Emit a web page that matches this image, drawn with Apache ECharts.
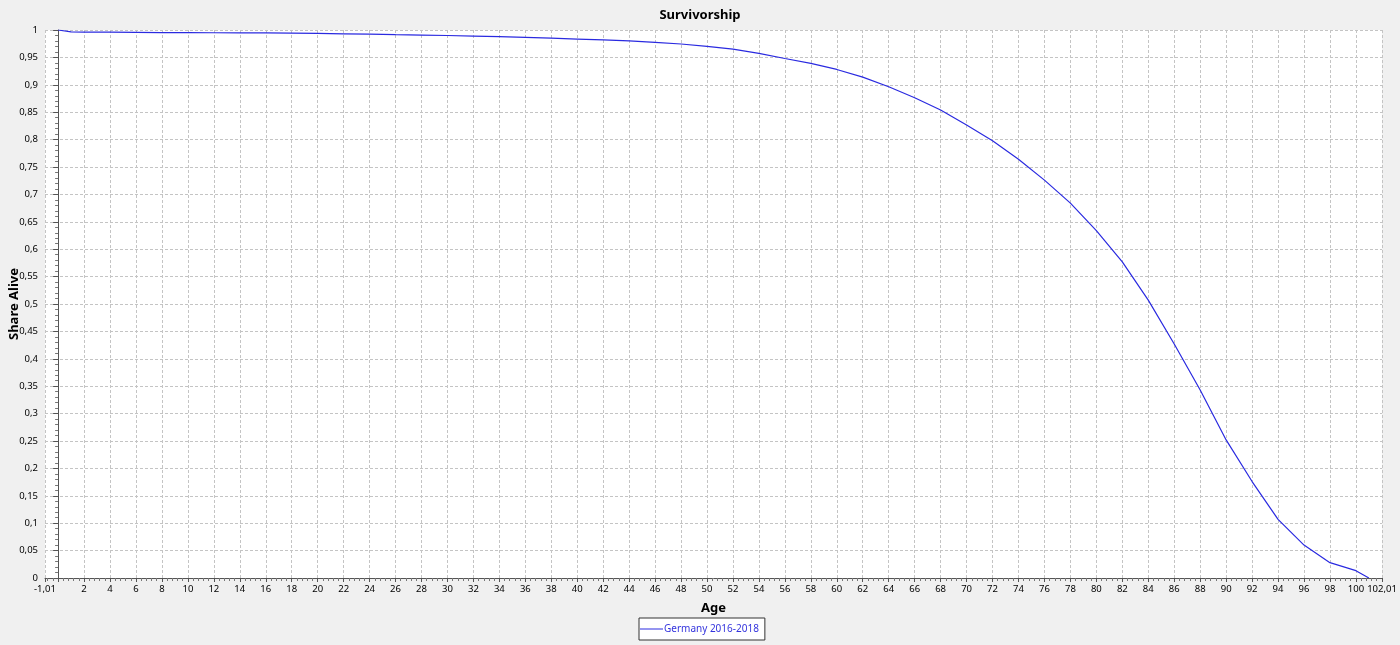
<!DOCTYPE html>
<html>
<head>
<meta charset="utf-8">
<script src="https://cdn.jsdelivr.net/npm/echarts@6/dist/echarts.min.js"></script>
<style>
html,body{margin:0;padding:0;background:#f0f0f0;}
#chart{width:1400px;height:645px;}
</style>
</head>
<body>
<div id="chart"></div>
<script>
const ages = [0, 1, 2, 4, 6, 8, 10, 12, 14, 16, 18, 20, 22, 24, 26, 28, 30, 32, 34, 36, 38, 40,
  42, 44, 46, 48, 50, 52, 54, 56, 58, 60, 62, 64, 66, 68, 70, 72, 74, 76, 78, 80,
  82, 84, 86, 88, 90, 92, 94, 96, 98, 100, 101];
const shareAlive = [1.0, 0.9965, 0.9962, 0.996, 0.9958, 0.9953, 0.9952, 0.995, 0.9949, 0.9947, 0.9943,
  0.9937, 0.993, 0.9923, 0.9915, 0.9908, 0.990, 0.989, 0.988, 0.9865, 0.985, 0.9835,
  0.982, 0.980, 0.9775, 0.9745, 0.970, 0.965, 0.9575, 0.948, 0.939, 0.928,
  0.914, 0.8965, 0.8765, 0.854, 0.8266, 0.798, 0.764, 0.726, 0.684, 0.634,
  0.577, 0.507, 0.427, 0.343, 0.252, 0.176, 0.107, 0.060, 0.028, 0.0134, 0];
const seriesName = 'Germany 2016-2018';
const xMin = -1.01, xMax = 102.01;
const yMin = 0, yMax = 1, yStep = 0.05;

const fontFamily = 'Noto Sans';
const chart = echarts.init(document.getElementById('chart'));
const fmtNum = v => String(+(+v).toFixed(2)).replace('.', ',');
chart.setOption({
  backgroundColor: '#f0f0f0',
  animation: false,
  textStyle: { fontFamily: fontFamily },
  title: {
    text: 'Survivorship', left: 'center', top: 4,
    textStyle: { fontSize: 13, fontWeight: 'bold', color: '#000', fontFamily: fontFamily }
  },
  legend: {
    top: 618, left: 639,
    backgroundColor: '#fff', borderColor: '#333', borderWidth: 1,
    padding: [6, 6, 6, 1], itemWidth: 23, itemHeight: 1, itemGap: 2,
    textStyle: { color: '#3333dd', fontSize: 10, fontFamily: fontFamily, padding: [0, 0, 0, -4] },
    data: [{ name: seriesName, icon: 'rect' }]
  },
  grid: {
    left: 45, right: 18, top: 30, bottom: 67,
    show: true, backgroundColor: '#fff', borderWidth: 0,
    containLabel: false, outerBoundsMode: 'none'
  },
  xAxis: {
    type: 'value', min: xMin, max: xMax, splitNumber: 50, minInterval: 2, maxInterval: 2,
    name: 'Age', nameLocation: 'middle', nameGap: 24, nameMoveOverlap: false,
    nameTextStyle: { fontSize: 13, fontWeight: 'bold', color: '#000', fontFamily: fontFamily },
    axisLine: { onZero: false, lineStyle: { color: '#555', width: 1 } },
    axisTick: { show: true, length: 4, lineStyle: { color: '#555' } },
    minorTick: { show: true, splitNumber: 5, length: 3, lineStyle: { color: '#777' } },
    axisLabel: {
      color: '#000', fontSize: 9.5, margin: 6, showMinLabel: true, showMaxLabel: true,
      formatter: v => {
        if (Math.abs(v - xMin) < 1e-6) return '-1,01';
        if (Math.abs(v - xMax) < 1e-6) return '102,01';
        if (v === 0 || v === 102) return '';
        return fmtNum(v);
      }
    },
    splitLine: { show: true, lineStyle: { color: '#c4c4c4', type: [3, 2], width: 1 } }
  },
  yAxis: {
    type: 'value', min: yMin, max: yMax, interval: yStep,
    name: 'Share Alive', nameLocation: 'middle', nameGap: 24, nameRotate: 90, nameMoveOverlap: false,
    nameTextStyle: { fontSize: 13, fontWeight: 'bold', color: '#000', fontFamily: fontFamily },
    axisLine: { show: true, lineStyle: { color: '#555', width: 1 } },
    axisTick: { show: true, length: 5, lineStyle: { color: '#555' } },
    minorTick: { show: true, splitNumber: 5, length: 3, lineStyle: { color: '#777' } },
    axisLabel: { color: '#000', fontSize: 9.5, margin: 7, formatter: v => fmtNum(v) },
    splitLine: { show: true, lineStyle: { color: '#c4c4c4', type: [3, 2], width: 1 } }
  },
  series: [{
    name: seriesName, type: 'line', symbol: 'none',
    lineStyle: { color: '#2a2ae0', width: 1.2 },
    itemStyle: { color: '#2a2ae0' },
    data: ages.map((a, i) => [a, shareAlive[i]])
  }]
});
</script>
</body>
</html>
